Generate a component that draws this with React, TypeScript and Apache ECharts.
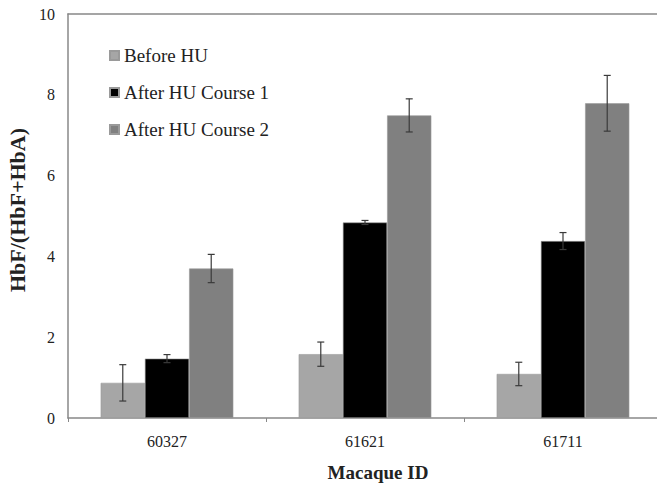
import React, { useEffect, useRef } from "react";
import * as echarts from "echarts";

const categories = ["60327", "61621", "61711"];
const seriesNames = ["Before HU", "After HU Course 1", "After HU Course 2"];
const beforeHU = [0.87, 1.58, 1.09];
const afterCourse1 = [1.47, 4.84, 4.38];
const afterCourse2 = [3.7, 7.49, 7.79];
const errBefore = [0.45, 0.3, 0.29];
const errCourse1 = [0.1, 0.05, 0.21];
const errCourse2 = [0.35, 0.41, 0.69];
const colors = ["#a6a6a6", "#000000", "#808080"];
const yTicks = [0, 2, 4, 6, 8, 10];

const values = [beforeHU, afterCourse1, afterCourse2];
const errors = [errBefore, errCourse1, errCourse2];
const BAR_GAP_CAT = 0.33;

export default function App() {
  const ref = useRef<HTMLDivElement>(null);
  useEffect(() => {
    if (!ref.current) return;
    const chart = echarts.init(ref.current, null, { renderer: "svg" });
    const font = "Liberation Serif";
    const barSeries = seriesNames.map((name, i) => ({
      name,
      type: "bar",
      data: values[i],
      barGap: "0%",
      barCategoryGap: "33%",
      itemStyle: { color: colors[i], borderColor: "#9a9a9a", borderWidth: 0.6 },
      z: 2,
    }));
    const errSeries = seriesNames.map((name, i) => ({
      name: name + " err",
      type: "custom",
      z: 5,
      data: categories.map((_, c) => [c, values[i][c], errors[i][c]]),
      renderItem: (params: any, api: any) => {
        const c = api.value(0);
        const v = api.value(1);
        const e = api.value(2);
        const catW = api.size([1, 0])[0];
        const bw = (catW * (1 - BAR_GAP_CAT)) / 3;
        const off = (i - 1) * bw;
        const top = api.coord([c, v + e]);
        const bot = api.coord([c, v - e]);
        const x = top[0] + off;
        const cap = 3.5;
        const style = { stroke: "#3a3a3a", lineWidth: 1.2 };
        return {
          type: "group",
          children: [
            { type: "line", shape: { x1: x, y1: top[1], x2: x, y2: bot[1] }, style },
            { type: "line", shape: { x1: x - cap, y1: top[1], x2: x + cap, y2: top[1] }, style },
            { type: "line", shape: { x1: x - cap, y1: bot[1], x2: x + cap, y2: bot[1] }, style },
          ],
        };
      },
    }));
    chart.setOption({
      animation: false,
      textStyle: { fontFamily: font },
      grid: { left: 68, right: -5, top: 14, bottom: 65, containLabel: false, outerBoundsMode: "none" },
      legend: {
        data: seriesNames,
        orient: "vertical",
        left: 104,
        top: 41,
        itemWidth: 9,
        itemHeight: 9,
        itemGap: 18,
        icon: "rect",
        textStyle: { fontFamily: font, fontSize: 19, color: "#222" },
      },
      xAxis: [
        {
          type: "category",
          data: categories,
          name: "Macaque ID",
          nameLocation: "middle",
          nameGap: 45,
          nameTextStyle: {
            fontFamily: font,
            fontSize: 19,
            fontWeight: "bold",
            color: "#222",
            padding: [0, 0, 0, 26],
          },
          axisLine: { lineStyle: { color: "#888", width: 1.5 } },
          axisTick: { show: true, length: 4, lineStyle: { color: "#888" } },
          axisLabel: { fontFamily: font, fontSize: 16, color: "#222", margin: 15 },
        },
        {
          type: "category",
          data: categories,
          position: "top",
          axisLine: { lineStyle: { color: "#888", width: 1.5 } },
          axisTick: { show: false },
          axisLabel: { show: false },
        },
      ],
      yAxis: {
        type: "value",
        min: 0,
        max: 10,
        interval: 2,
        name: "HbF/(HbF+HbA)",
        nameLocation: "middle",
        nameGap: 32,
        nameTextStyle: {
          fontFamily: font,
          fontSize: 22,
          fontWeight: "bold",
          color: "#222",
          padding: [0, 0, 0, 12],
        },
        axisLine: { show: true, lineStyle: { color: "#888", width: 1.5 } },
        axisTick: { show: false },
        splitLine: { show: false },
        axisLabel: {
          fontFamily: font,
          fontSize: 16,
          color: "#222",
          margin: 13,
          formatter: (v: number) => (yTicks.includes(v) ? String(v) : ""),
        },
      },
      series: [...barSeries, ...errSeries],
    });
    return () => chart.dispose();
  }, []);
  return <div ref={ref} style={{ width: 657, height: 483, position: "absolute", left: 0, top: 0 }} />;
}
